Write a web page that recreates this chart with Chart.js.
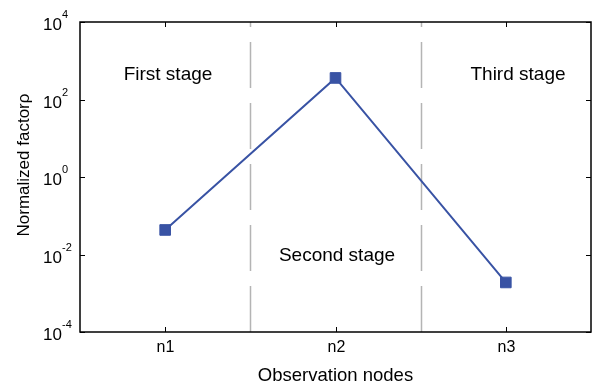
<!DOCTYPE html>
<html>
<head>
<meta charset="utf-8">
<script src="https://cdn.jsdelivr.net/npm/chart.js@4"></script>
<style>
  html, body { margin: 0; padding: 0; background: #fff; }
</style>
</head>
<body>
<canvas id="grafico" width="611" height="383"></canvas>
<script>
const nodes = ['n1', 'n2', 'n3']
const factor = [0.043, 360, 0.0019]
const tickExp = [-4, -2, 0, 2, 4]
const stages = ['First stage', 'Second stage', 'Third stage']
const xTitle = 'Observation nodes'
const yTitle = 'Normalized factorρ'

const FONT = '"Liberation Sans", Arial, sans-serif'

// box, inward ticks, labels, stage lines and texts (matlab look)
const decor = {
  id: 'decor',
  beforeDatasetsDraw(chart) {
    const {ctx, chartArea: a, scales: {x}} = chart
    ctx.save()
    ctx.strokeStyle = '#b4b4b4'
    ctx.lineWidth = 1.5
    ctx.setLineDash([46, 15])
    for (const v of [0.5, 1.5]) {
      const px = Math.round(x.getPixelForValue(v)) + 0.5
      ctx.beginPath()
      ctx.moveTo(px, a.bottom)
      ctx.lineTo(px, a.top)
      ctx.stroke()
    }
    ctx.restore()
  },
  afterDraw(chart) {
    const {ctx, chartArea: a, scales: {x, y}} = chart
    ctx.save()
    ctx.strokeStyle = '#000'
    ctx.lineWidth = 1.5
    ctx.strokeRect(a.left, a.top, a.right - a.left, a.bottom - a.top)

    ctx.lineWidth = 1
    ctx.fillStyle = '#000'
    // y ticks
    tickExp.forEach(e => {
      const py = Math.round(y.getPixelForValue(Math.pow(10, e))) + 0.5
      ctx.beginPath()
      ctx.moveTo(a.left, py); ctx.lineTo(a.left + 5, py)
      ctx.moveTo(a.right, py); ctx.lineTo(a.right - 5, py)
      ctx.stroke()
      ctx.font = '17px ' + FONT
      ctx.textAlign = 'right'
      ctx.textBaseline = 'alphabetic'
      ctx.fillText('10', 62, py + 7)
      ctx.font = '11px ' + FONT
      ctx.textAlign = 'left'
      ctx.fillText(String(e), 62, py - 5)
    })
    // x ticks
    ctx.font = '16px ' + FONT
    ctx.textAlign = 'center'
    nodes.forEach((n, i) => {
      const px = Math.round(x.getPixelForValue(i)) + 0.5
      ctx.beginPath()
      ctx.moveTo(px, a.bottom); ctx.lineTo(px, a.bottom - 5)
      ctx.moveTo(px, a.top); ctx.lineTo(px, a.top + 5)
      ctx.stroke()
      ctx.fillText(n, px, a.bottom + 20)
    })
    // axis titles
    ctx.font = '18.5px ' + FONT
    ctx.fillText(xTitle, (a.left + a.right) / 2, 381)
    ctx.save()
    ctx.font = '17px ' + FONT
    ctx.translate(29, 165)
    ctx.rotate(-Math.PI / 2)
    ctx.fillText(yTitle, 0, 0)
    ctx.restore()
    // stage texts
    ctx.font = '19px ' + FONT
    ctx.fillText(stages[0], 168, 80)
    ctx.fillText(stages[1], 337, 261)
    ctx.fillText(stages[2], 518, 80)
    ctx.restore()
  }
}

const ctx = document.getElementById('grafico').getContext('2d')
new Chart(ctx, {
  type: 'line',
  data: {
    labels: nodes,
    datasets: [{
      label: 'Normalized factor',
      data: factor,
      borderColor: '#3953a4',
      backgroundColor: '#3953a4',
      borderWidth: 2,
      pointStyle: 'rect',
      pointRadius: 7.5,
      pointBorderWidth: 1,
      tension: 0
    }]
  },
  options: {
    responsive: false,
    animation: false,
    layout: {
      padding: {left: 80, top: 22, right: 20, bottom: 51}
    },
    plugins: {
      legend: {display: false},
      tooltip: {enabled: false}
    },
    scales: {
      x: {
        type: 'category',
        offset: true,
        display: false
      },
      y: {
        type: 'logarithmic',
        min: 1e-4,
        max: 1e4,
        display: false
      }
    }
  },
  plugins: [decor]
})
</script>
</body>
</html>
